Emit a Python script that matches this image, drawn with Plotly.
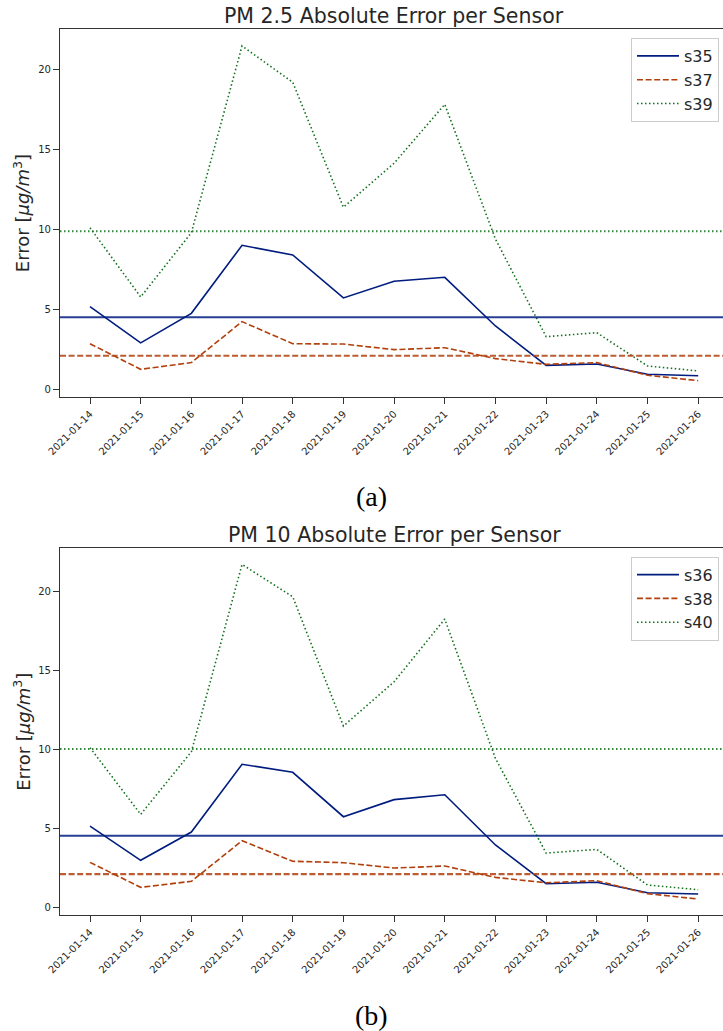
import numpy as np
import plotly.graph_objects as go

# Daily absolute error per sensor
dates = ["2021-01-14", "2021-01-15", "2021-01-16", "2021-01-17", "2021-01-18",
         "2021-01-19", "2021-01-20", "2021-01-21", "2021-01-22", "2021-01-23",
         "2021-01-24", "2021-01-25", "2021-01-26"]

pm25_s35 = [5.18, 2.91, 4.76, 9.01, 8.41, 5.72, 6.76, 7.01, 3.97, 1.51, 1.59, 0.95, 0.86]
pm25_s37 = [2.86, 1.26, 1.68, 4.24, 2.86, 2.84, 2.49, 2.61, 1.93, 1.57, 1.68, 0.89, 0.55]
pm25_s39 = [10.11, 5.78, 9.80, 21.47, 19.20, 11.39, 14.14, 17.82, 9.40, 3.30, 3.55, 1.47, 1.16]

pm10_s36 = [5.17, 3.00, 4.79, 9.08, 8.57, 5.76, 6.84, 7.15, 3.97, 1.52, 1.61, 0.95, 0.87]
pm10_s38 = [2.87, 1.29, 1.67, 4.24, 2.94, 2.85, 2.51, 2.64, 1.92, 1.58, 1.71, 0.89, 0.55]
pm10_s40 = [10.13, 5.91, 9.87, 21.73, 19.68, 11.50, 14.30, 18.27, 9.45, 3.46, 3.69, 1.44, 1.14]

pm25_names = ["s35", "s37", "s39"]
pm10_names = ["s36", "s38", "s40"]

colors = ["#001c7f", "#b1400d", "#12711c"]
dashes = ["solid", "6px,2.6px", "1.5px,2.5px"]

W, H = 723, 1031
FONT = "DejaVu Sans"
AXC = "#333333"
TXT = "#262626"


def fy(px):
    return 1 - px / H


fig = go.Figure()

panels = [
    dict(series=[pm25_s35, pm25_s37, pm25_s39], names=pm25_names, xa="x", ya="y",
         legend="legend", title="PM 2.5 Absolute Error per Sensor"),
    dict(series=[pm10_s36, pm10_s38, pm10_s40], names=pm10_names, xa="x2", ya="y2",
         legend="legend2", title="PM 10 Absolute Error per Sensor"),
]

shapes = []
for p in panels:
    for vals, name, c, d in zip(p["series"], p["names"], colors, dashes):
        fig.add_trace(go.Scatter(
            x=dates, y=vals, mode="lines", name=name,
            line=dict(color=c, width=1.6, dash=d),
            xaxis=p["xa"], yaxis=p["ya"], legend=p["legend"],
        ))
        # horizontal line at the sensor's mean error
        shapes.append(dict(
            type="line", xref=f"{p['xa']} domain", x0=0, x1=1,
            yref=p["ya"], y0=float(np.mean(vals)), y1=float(np.mean(vals)),
            line=dict(color=c, width=2.1, dash=d), opacity=0.85, layer="above",
        ))

top_dom = [fy(397.0), fy(29.3)]
bot_dom = [fy(915.3), fy(548.3)]

axis_common = dict(
    showline=True, linecolor=AXC, linewidth=1.25,
    ticks="outside", ticklen=6, tickwidth=1.25, tickcolor=AXC,
    showgrid=False, zeroline=False,
    tickfont=dict(family=FONT, size=10, color=TXT),
)

xcommon = dict(axis_common, type="category", range=[-0.592, 12.49],
               tickangle=-45, mirror=True, categoryorder="array",
               categoryarray=dates)

legend_common = dict(
    x=(719 - 60) / 663, xanchor="right", yanchor="top",
    bgcolor="white", bordercolor="#cccccc", borderwidth=1, itemwidth=42,
    font=dict(family=FONT, size=16, color=TXT),
)

fig.update_layout(
    width=W, height=H,
    margin=dict(l=60, r=0, t=0, b=0),
    paper_bgcolor="white", plot_bgcolor="white",
    font=dict(family=FONT, color=TXT),
    xaxis=dict(xcommon, anchor="y", domain=[0, 1]),
    yaxis=dict(axis_common, anchor="x", domain=top_dom, range=[-0.47, 22.51],
               tickmode="linear", tick0=0, dtick=5),
    xaxis2=dict(xcommon, anchor="y2", domain=[0, 1]),
    yaxis2=dict(axis_common, anchor="x2", domain=bot_dom, range=[-0.48, 22.75],
                tickmode="linear", tick0=0, dtick=5),
    legend=dict(legend_common, y=fy(38)),
    legend2=dict(legend_common, y=fy(556.7)),
    shapes=shapes,
    showlegend=True,
)

annotations = []
for p, top_px, dom in [(panels[0], 29.3, top_dom), (panels[1], 548.3, bot_dom)]:
    annotations.append(dict(
        text=p["title"], xref=p["xa"], x=6, yref="paper", y=fy(top_px),
        yanchor="bottom", showarrow=False, yshift=-1,
        font=dict(family=FONT, size=20.5, color=TXT),
    ))
    annotations.append(dict(
        text="Error [<i>μg/m</i><sup>3</sup>]", textangle=-90,
        xref="paper", x=(22 - 60) / 663, xanchor="center",
        yref="paper", y=(dom[0] + dom[1]) / 2, yanchor="middle",
        showarrow=False, font=dict(family=FONT, size=18, color=TXT),
    ))

for label, ypx in [("(a)", 496), ("(b)", 1015)]:
    annotations.append(dict(
        text=label, xref="paper", x=(371 - 60) / 663, yref="paper", y=fy(ypx),
        xanchor="center", yanchor="middle", showarrow=False,
        font=dict(family="Liberation Serif", size=28, color="black"),
    ))

fig.update_layout(annotations=annotations)

fig.write_html("out.html")
